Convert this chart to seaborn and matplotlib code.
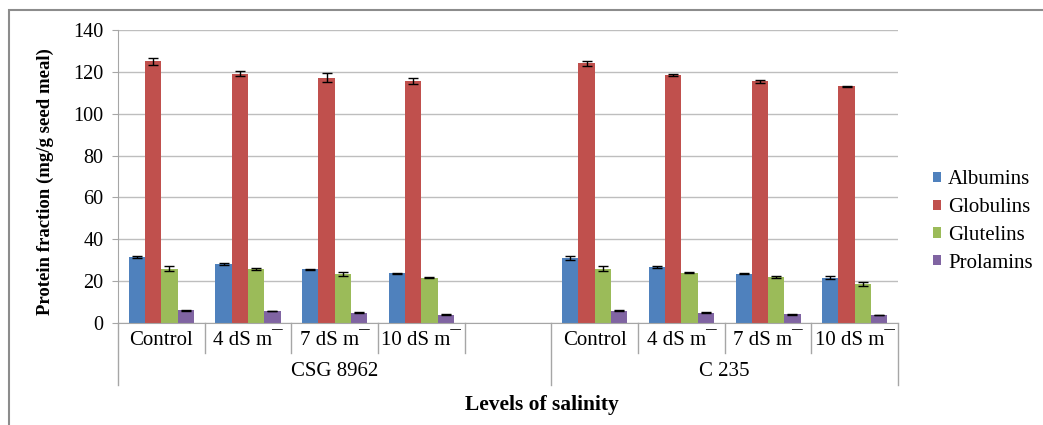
import matplotlib
matplotlib.use("Agg")
import numpy as np
import pandas as pd
import matplotlib.pyplot as plt
import seaborn as sns
from matplotlib.patches import Rectangle
from matplotlib.transforms import blended_transform_factory

# ---- data ----
fractions = ['Albumins', 'Globulins', 'Glutelins', 'Prolamins']
genotypes = ['CSG 8962', 'C 235']
levels = ['Control', '4 dS m\u00af', '7 dS m\u00af', '10 dS m\u00af']

# values per fraction: CSG 8962 (4 levels) then C 235 (4 levels)
albumins = [31.5, 28.0, 25.6, 23.8, 31.0, 26.8, 23.6, 21.6]
globulins = [125.0, 119.2, 117.2, 115.6, 124.0, 118.5, 115.6, 113.2]
glutelins = [26.0, 25.8, 23.5, 21.6, 26.0, 24.0, 21.8, 18.6]
prolamins = [6.0, 5.7, 4.9, 4.0, 5.8, 5.0, 4.2, 3.8]

albumins_err = [0.3, 0.5, 0.3, 0.2, 0.8, 0.3, 0.2, 0.7]
globulins_err = [1.5, 1.2, 2.2, 1.3, 1.0, 0.3, 0.7, 0.2]
glutelins_err = [1.2, 0.6, 1.0, 0.2, 1.2, 0.3, 0.5, 0.8]
prolamins_err = [0.2, 0.2, 0.2, 0.2, 0.2, 0.2, 0.2, 0.2]

colors = ['#4F81BD', '#C0504D', '#9BBB59', '#8064A2']

values = [albumins, globulins, glutelins, prolamins]
errors = [albumins_err, globulins_err, glutelins_err, prolamins_err]

# slots: 4 levels + an empty slot for CSG 8962, then 4 levels for C 235
slots = [f'{genotypes[0]} | {l}' for l in levels] + [f'{genotypes[0]} | blank'] + \
        [f'{genotypes[1]} | {l}' for l in levels]
data_slots = [s for s in slots if not s.endswith('blank')]

rows = []
for f, vals in zip(fractions, values):
    for s, v in zip(data_slots, vals):
        rows.append({'slot': s, 'fraction': f, 'value': v})
df = pd.DataFrame(rows)

# ---- figure ----
W, H = 1043, 425
fig = plt.figure(figsize=(W / 100, H / 100), dpi=100)
plt.rcParams['font.family'] = ['Liberation Serif', 'DejaVu Serif']

ax_l, ax_r, ax_t, ax_b = 118, 898, 30, 323
ax = fig.add_axes([ax_l / W, 1 - ax_b / H, (ax_r - ax_l) / W, (ax_b - ax_t) / H])

sns.barplot(data=df, x='slot', y='value', hue='fraction', order=slots,
            hue_order=fractions, palette=colors, width=0.75, errorbar=None,
            saturation=1, ax=ax, legend=True, linewidth=0)

# error bars from the drawn bars
for container, errs in zip(ax.containers, errors):
    slot_err = {}
    for s, e in zip(data_slots, errs):
        slot_err[slots.index(s)] = e
    xs, ys, es = [], [], []
    for bar in container:
        cx = bar.get_x() + bar.get_width() / 2
        xs.append(cx)
        ys.append(bar.get_height())
        es.append(slot_err[int(round(cx))])
    ax.errorbar(xs, ys, yerr=es, fmt='none', ecolor='black',
                elinewidth=1, capsize=3.6, capthick=1, zorder=5)

ax.set_xlim(-0.5, len(slots) - 0.5)
ax.set_ylim(0, 140)
ax.set_yticks(np.arange(0, 141, 20))
ax.yaxis.grid(True, color='#BEBEBE', linewidth=1)
ax.set_axisbelow(True)
for sp in ['top', 'right']:
    ax.spines[sp].set_visible(False)
ax.spines['left'].set_color('#A6A6A6')
ax.spines['bottom'].set_color('#A6A6A6')
ax.tick_params(axis='y', length=4.3, color='#A6A6A6', labelsize=14.5, pad=6)

tick_labels = levels + [''] + levels
ax.set_xticks(range(len(slots)))
ax.set_xticklabels(tick_labels, fontsize=15)
ax.tick_params(axis='x', length=0, pad=6)
ax.set_xlabel('')
ax.set_ylabel('')

# category separators below the axis
ah = ax_b - ax_t
short_y = -(353 - ax_b) / ah
long_y = -(385 - ax_b) / ah
trans = blended_transform_factory(ax.transData, ax.transAxes)
for i in range(len(slots) + 1):
    xb = i - 0.5
    yend = long_y if i in (0, 5, 9) else short_y
    ax.plot([xb, xb], [0, yend], transform=trans, color='#A6A6A6',
            linewidth=1, clip_on=False)

group_y = -(372 - ax_b) / ah
ax.text(2.0, group_y, genotypes[0], transform=trans, ha='center', va='center', fontsize=15)
ax.text(6.5, group_y, genotypes[1], transform=trans, ha='center', va='center', fontsize=15)

fig.text(542 / W, 1 - 405 / H, 'Levels of salinity', ha='center', va='center',
         fontsize=15.5, fontweight='bold')
fig.text(45 / W, 1 - 182 / H, 'Protein fraction (mg/g seed meal)', ha='center',
         va='center', rotation=90, fontsize=13.5, fontweight='bold')

leg = ax.legend(loc='center left', bbox_to_anchor=(933 / W, 1 - 221.5 / H),
                bbox_transform=fig.transFigure, frameon=False, fontsize=15,
                handlelength=0.38, handleheight=0.38, handletextpad=0.34,
                labelspacing=0.42, borderpad=0, borderaxespad=0, title=None)

# outer chart frame (cut off at right and bottom)
fig.patches.append(Rectangle((9 / W, -0.1), 1.2, 1.1 - 10 / H, transform=fig.transFigure,
                             fill=False, edgecolor='#8C8C8C', linewidth=1.5))

fig.savefig('out.png', dpi=100)
